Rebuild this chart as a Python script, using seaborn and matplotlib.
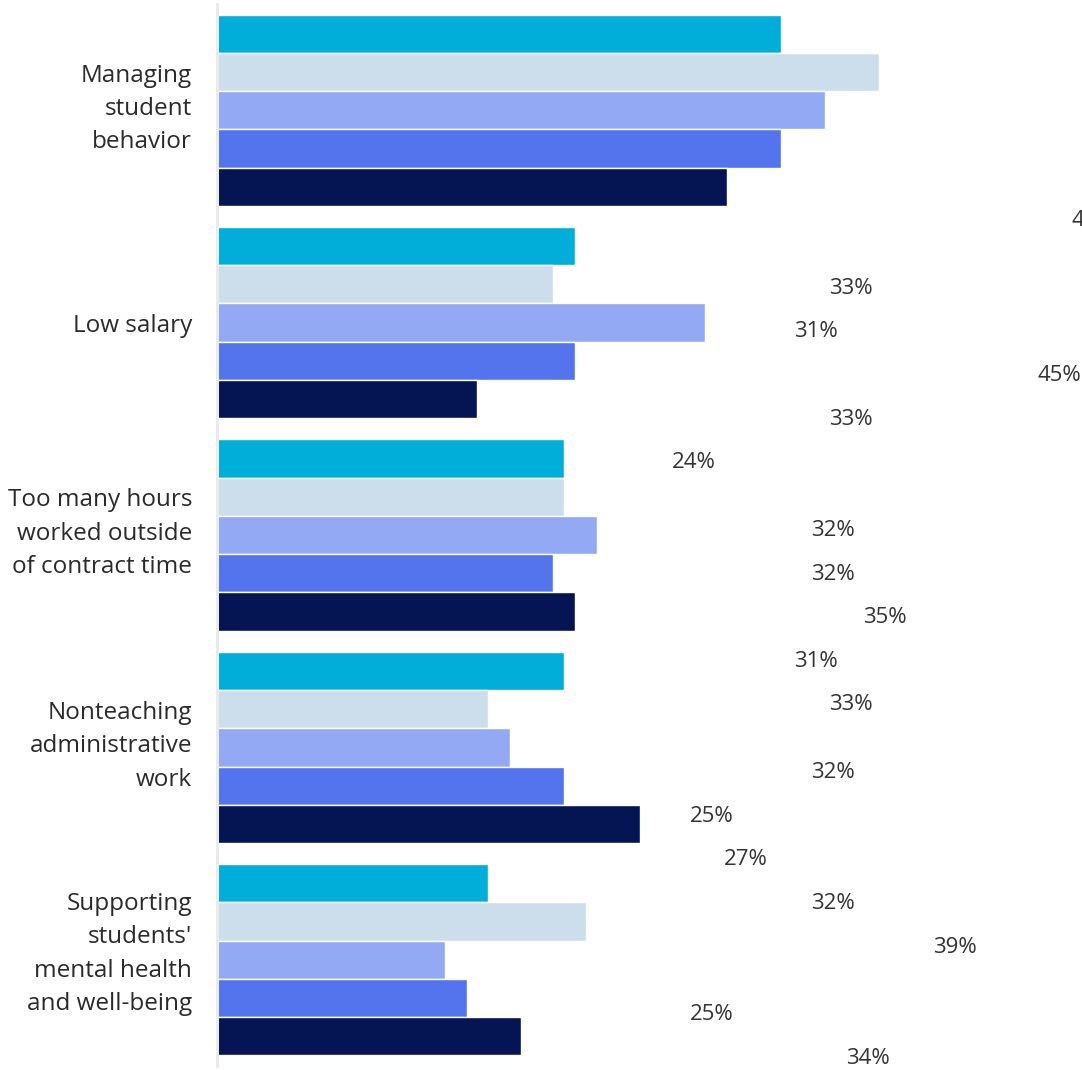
import matplotlib
matplotlib.use("Agg")
import matplotlib.pyplot as plt
import matplotlib.transforms as mtransforms
import seaborn as sns
import pandas as pd

categories = [
    "Managing\nstudent\nbehavior",
    "Low salary",
    "Too many hours\nworked outside\nof contract time",
    "Nonteaching\nadministrative\nwork",
    "Supporting\nstudents'\nmental health\nand well-being",
]
series_names = ["Series 1", "Series 2", "Series 3", "Series 4", "Series 5"]
series_1 = [52, 33, 32, 32, 25]
series_2 = [61, 31, 32, 25, 34]
series_3 = [56, 45, 35, 27, 21]
series_4 = [52, 33, 31, 32, 23]
series_5 = [47, 24, 33, 39, 28]
colors = ["#00AED9", "#CCDEEB", "#93A9F3", "#5474EE", "#051453"]

all_series = [series_1, series_2, series_3, series_4, series_5]
rows = []
for name, vals in zip(series_names, all_series):
    for cat, v in zip(categories, vals):
        rows.append({"category": cat, "series": name, "value": v})
df = pd.DataFrame(rows)

sns.set_theme(style="white")
plt.rcParams["font.family"] = ["Open Sans", "DejaVu Sans"]

W, H = 1082, 1070
fig = plt.figure(figsize=(W / 100, H / 100), dpi=100)
ax = fig.add_axes([217 / W, 4 / H, 865 / W, 1062 / H])

sns.barplot(data=df, y="category", x="value", hue="series", orient="h",
            palette=colors, saturation=1, width=0.9, edgecolor="white",
            linewidth=1, legend=False, ax=ax)

ax.set_xlim(0, 865 / 10.85)
ax.set_ylim(4.5, -0.5)
ax.set_xlabel("")
ax.set_ylabel("")
ax.set_xticks([])
for s in ["top", "right", "bottom"]:
    ax.spines[s].set_visible(False)
ax.spines["left"].set_color("#ebebeb")
ax.spines["left"].set_linewidth(2.2)
ax.tick_params(axis="y", length=0, pad=18, labelsize=17.5, labelcolor="#2a2a2a")
for t in ax.get_yticklabels():
    t.set_linespacing(1.52)
    nlines = t.get_text().count("\n")
    t.set_transform(t.get_transform() +
                    mtransforms.ScaledTranslation(0, nlines * 3.2 / 72, fig.dpi_scale_trans))

# value labels (rendered with the offset/scale seen in the reference)
label_tf = ax.transData + mtransforms.Affine2D().scale(1.602, 1.14).translate(-92.6, -157.6)
n = len(series_names)
bar_w = 0.9 / n
for i, vals in enumerate(all_series):
    for j, v in enumerate(vals):
        y = j - 0.45 + bar_w * (i + 0.5)
        px, py = label_tf.transform((v, y))
        if px > W or py < -15:
            continue  # falls entirely outside the canvas, as in the reference
        ax.text(v, y, f"{v}%", transform=label_tf, ha="left", va="center",
                fontsize=16, color="#333333", clip_on=False)

fig.savefig("out.png", dpi=100)
